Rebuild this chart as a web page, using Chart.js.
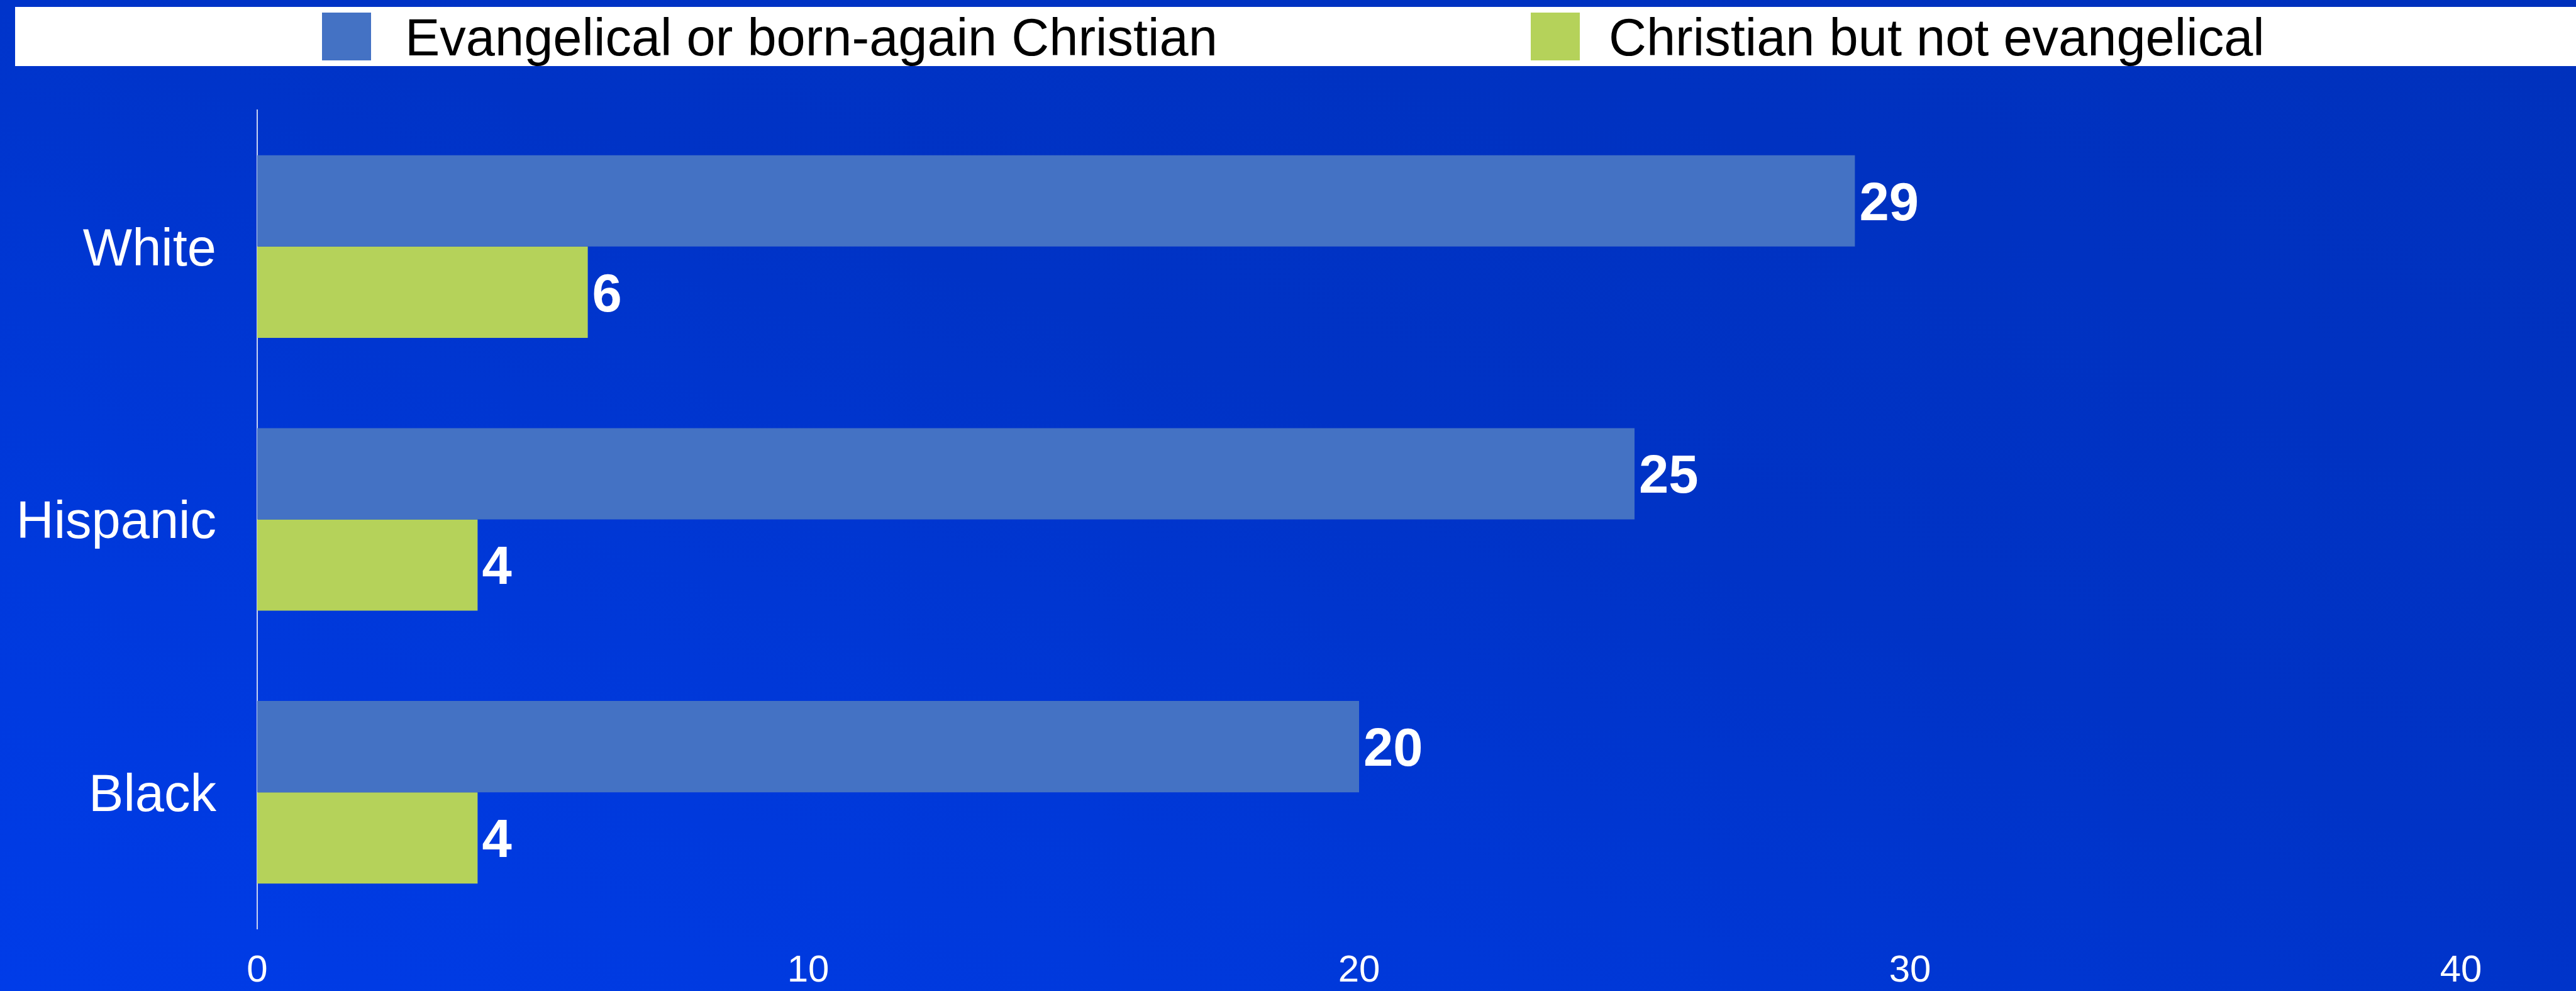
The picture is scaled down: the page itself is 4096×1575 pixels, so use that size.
<!DOCTYPE html>
<html>
<head>
<meta charset="utf-8">
<title>Christians by race</title>
<script src="https://cdn.jsdelivr.net/npm/chart.js@4.4.1/dist/chart.umd.min.js"></script>
<style>
  html, body { margin: 0; padding: 0; }
  body {
    width: 4096px;
    height: 1575px;
    overflow: hidden;
    background: linear-gradient(to top right, #003ce8 0%, #0038d8 30%, #0033c6 55%, #0031bc 100%);
  }
  canvas { display: block; }
</style>
</head>
<body>
<canvas id="raceChart" width="4096" height="1575"></canvas>
<script>
const categories = ['White', 'Hispanic', 'Black'];
const evangelical = [29, 25, 20];
const notEvangelical = [6, 4, 4];
const xTicks = [0, 10, 20, 30, 40];
const seriesNames = ['Evangelical or born-again Christian', 'Christian but not evangelical'];
const seriesColors = ['#4472c4', '#b5d25a'];

const FONT = "'Liberation Sans', Arial, sans-serif";

// white strip across the top holding the two legend entries
const legendStrip = {
    id: 'legendStrip',
    afterDraw(chart) {
        const ctx = chart.ctx;
        const boxX = [512, 2434];
        const textX = [644, 2558];
        ctx.save();
        ctx.fillStyle = '#ffffff';
        ctx.fillRect(24, 11, chart.width - 24, 94);
        ctx.font = '83px ' + FONT;
        ctx.textAlign = 'left';
        ctx.textBaseline = 'alphabetic';
        chart.data.datasets.forEach(function(ds, i) {
            ctx.fillStyle = ds.backgroundColor;
            ctx.fillRect(boxX[i], 20, 78, 76);
            ctx.fillStyle = '#000000';
            ctx.fillText(ds.label, textX[i], 88);
        });
        ctx.restore();
    }
};

// bold value next to the end of every bar
const valueLabels = {
    id: 'valueLabels',
    afterDatasetsDraw(chart) {
        const ctx = chart.ctx;
        ctx.save();
        ctx.fillStyle = '#ffffff';
        ctx.font = 'bold 85px ' + FONT;
        ctx.textAlign = 'left';
        ctx.textBaseline = 'middle';
        chart.data.datasets.forEach(function(ds, i) {
            chart.getDatasetMeta(i).data.forEach(function(bar, j) {
                ctx.fillText(String(ds.data[j]), bar.x + 7, bar.y + 7);
            });
        });
        ctx.restore();
    }
};

const ctx = document.getElementById('raceChart');

const raceChart = new Chart(ctx, {
    type: 'bar',
    data: {
        labels: categories,
        datasets: [
            {
                label: seriesNames[0],
                data: evangelical,
                backgroundColor: seriesColors[0],
                barPercentage: 1,
                categoryPercentage: 0.669
            },
            {
                label: seriesNames[1],
                data: notEvangelical,
                backgroundColor: seriesColors[1],
                barPercentage: 1,
                categoryPercentage: 0.669
            }
        ]
    },
    options: {
        indexAxis: 'y',
        responsive: false,
        animation: false,
        layout: {
            padding: { top: 175, right: 183, bottom: 0, left: 0 }
        },
        plugins: {
            legend: { display: false },
            tooltip: { enabled: false }
        },
        scales: {
            x: {
                min: xTicks[0],
                max: xTicks[xTicks.length - 1],
                afterBuildTicks: function(scale) {
                    scale.ticks = xTicks.map(function(v) { return { value: v }; });
                },
                afterFit: function(scale) {
                    scale.height = 99;
                },
                grid: { display: false, drawTicks: false },
                border: { display: false },
                ticks: {
                    color: '#ffffff',
                    padding: 31,
                    font: { family: FONT, size: 60 }
                }
            },
            y: {
                afterFit: function(scale) {
                    // fixed width, and no extra room reserved for the end labels
                    scale.width = 409;
                    scale.paddingTop = 0;
                    scale.paddingBottom = 0;
                },
                grid: { display: false, drawTicks: false },
                border: { display: true, color: '#c9d3f2', width: 2 },
                ticks: {
                    color: '#ffffff',
                    padding: 65,
                    labelOffset: 7,
                    font: { family: FONT, size: 83 }
                }
            }
        }
    },
    plugins: [legendStrip, valueLabels]
});
</script>
</body>
</html>
